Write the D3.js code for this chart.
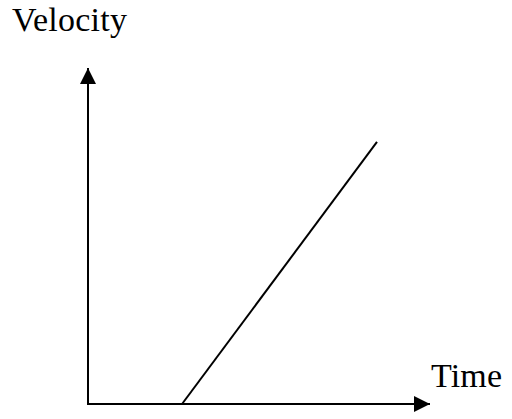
<!DOCTYPE html>
<html>
<head>
<meta charset="utf-8">
<script src="https://d3js.org/d3.v7.min.js"></script>
<style>
  body { margin: 0; background: #fff; }
  svg { display: block; }
  text { font-family: "Liberation Serif", "DejaVu Serif", serif; fill: #000; }
</style>
</head>
<body>
<svg id="chart" width="512" height="419"></svg>
<script>
// values
const times = [2.75, 8.45];
const velocities = [0, 7.8];
const axisLabels = { x: "Time", y: "Velocity" };

const svg = d3.select("#chart");

const x = d3.scaleLinear().domain([0, 10]).range([88, 430]);
const y = d3.scaleLinear().domain([0, 10]).range([404, 68]);

const defs = svg.append("defs");
defs.append("marker")
  .attr("id", "arrow")
  .attr("viewBox", "0 0 16 16")
  .attr("refX", 16)
  .attr("refY", 8)
  .attr("markerWidth", 16)
  .attr("markerHeight", 16)
  .attr("markerUnits", "userSpaceOnUse")
  .attr("orient", "auto")
  .append("path")
  .attr("d", "M0,0 L16,8 L0,16 Z")
  .attr("fill", "#000");

// axes
svg.append("line")
  .attr("x1", x(0)).attr("y1", y(0))
  .attr("x2", x(0)).attr("y2", y(10))
  .attr("stroke", "#000").attr("stroke-width", 2)
  .attr("marker-end", "url(#arrow)");

svg.append("line")
  .attr("x1", x(0) - 1).attr("y1", y(0))
  .attr("x2", x(10)).attr("y2", y(0))
  .attr("stroke", "#000").attr("stroke-width", 2)
  .attr("marker-end", "url(#arrow)");

// velocity line
const data = times.map((t, i) => ({ t, v: velocities[i] }));
svg.append("path")
  .datum(data)
  .attr("fill", "none")
  .attr("stroke", "#000")
  .attr("stroke-width", 2)
  .attr("d", d3.line().x(d => x(d.t)).y(d => y(d.v)));

svg.append("text")
  .attr("x", 12).attr("y", 31)
  .style("font-size", "34px")
  .attr("textLength", 115)
  .text(axisLabels.y);

svg.append("text")
  .attr("x", 431).attr("y", 387)
  .style("font-size", "34px")
  .attr("textLength", 71)
  .text(axisLabels.x);
</script>
</body>
</html>
